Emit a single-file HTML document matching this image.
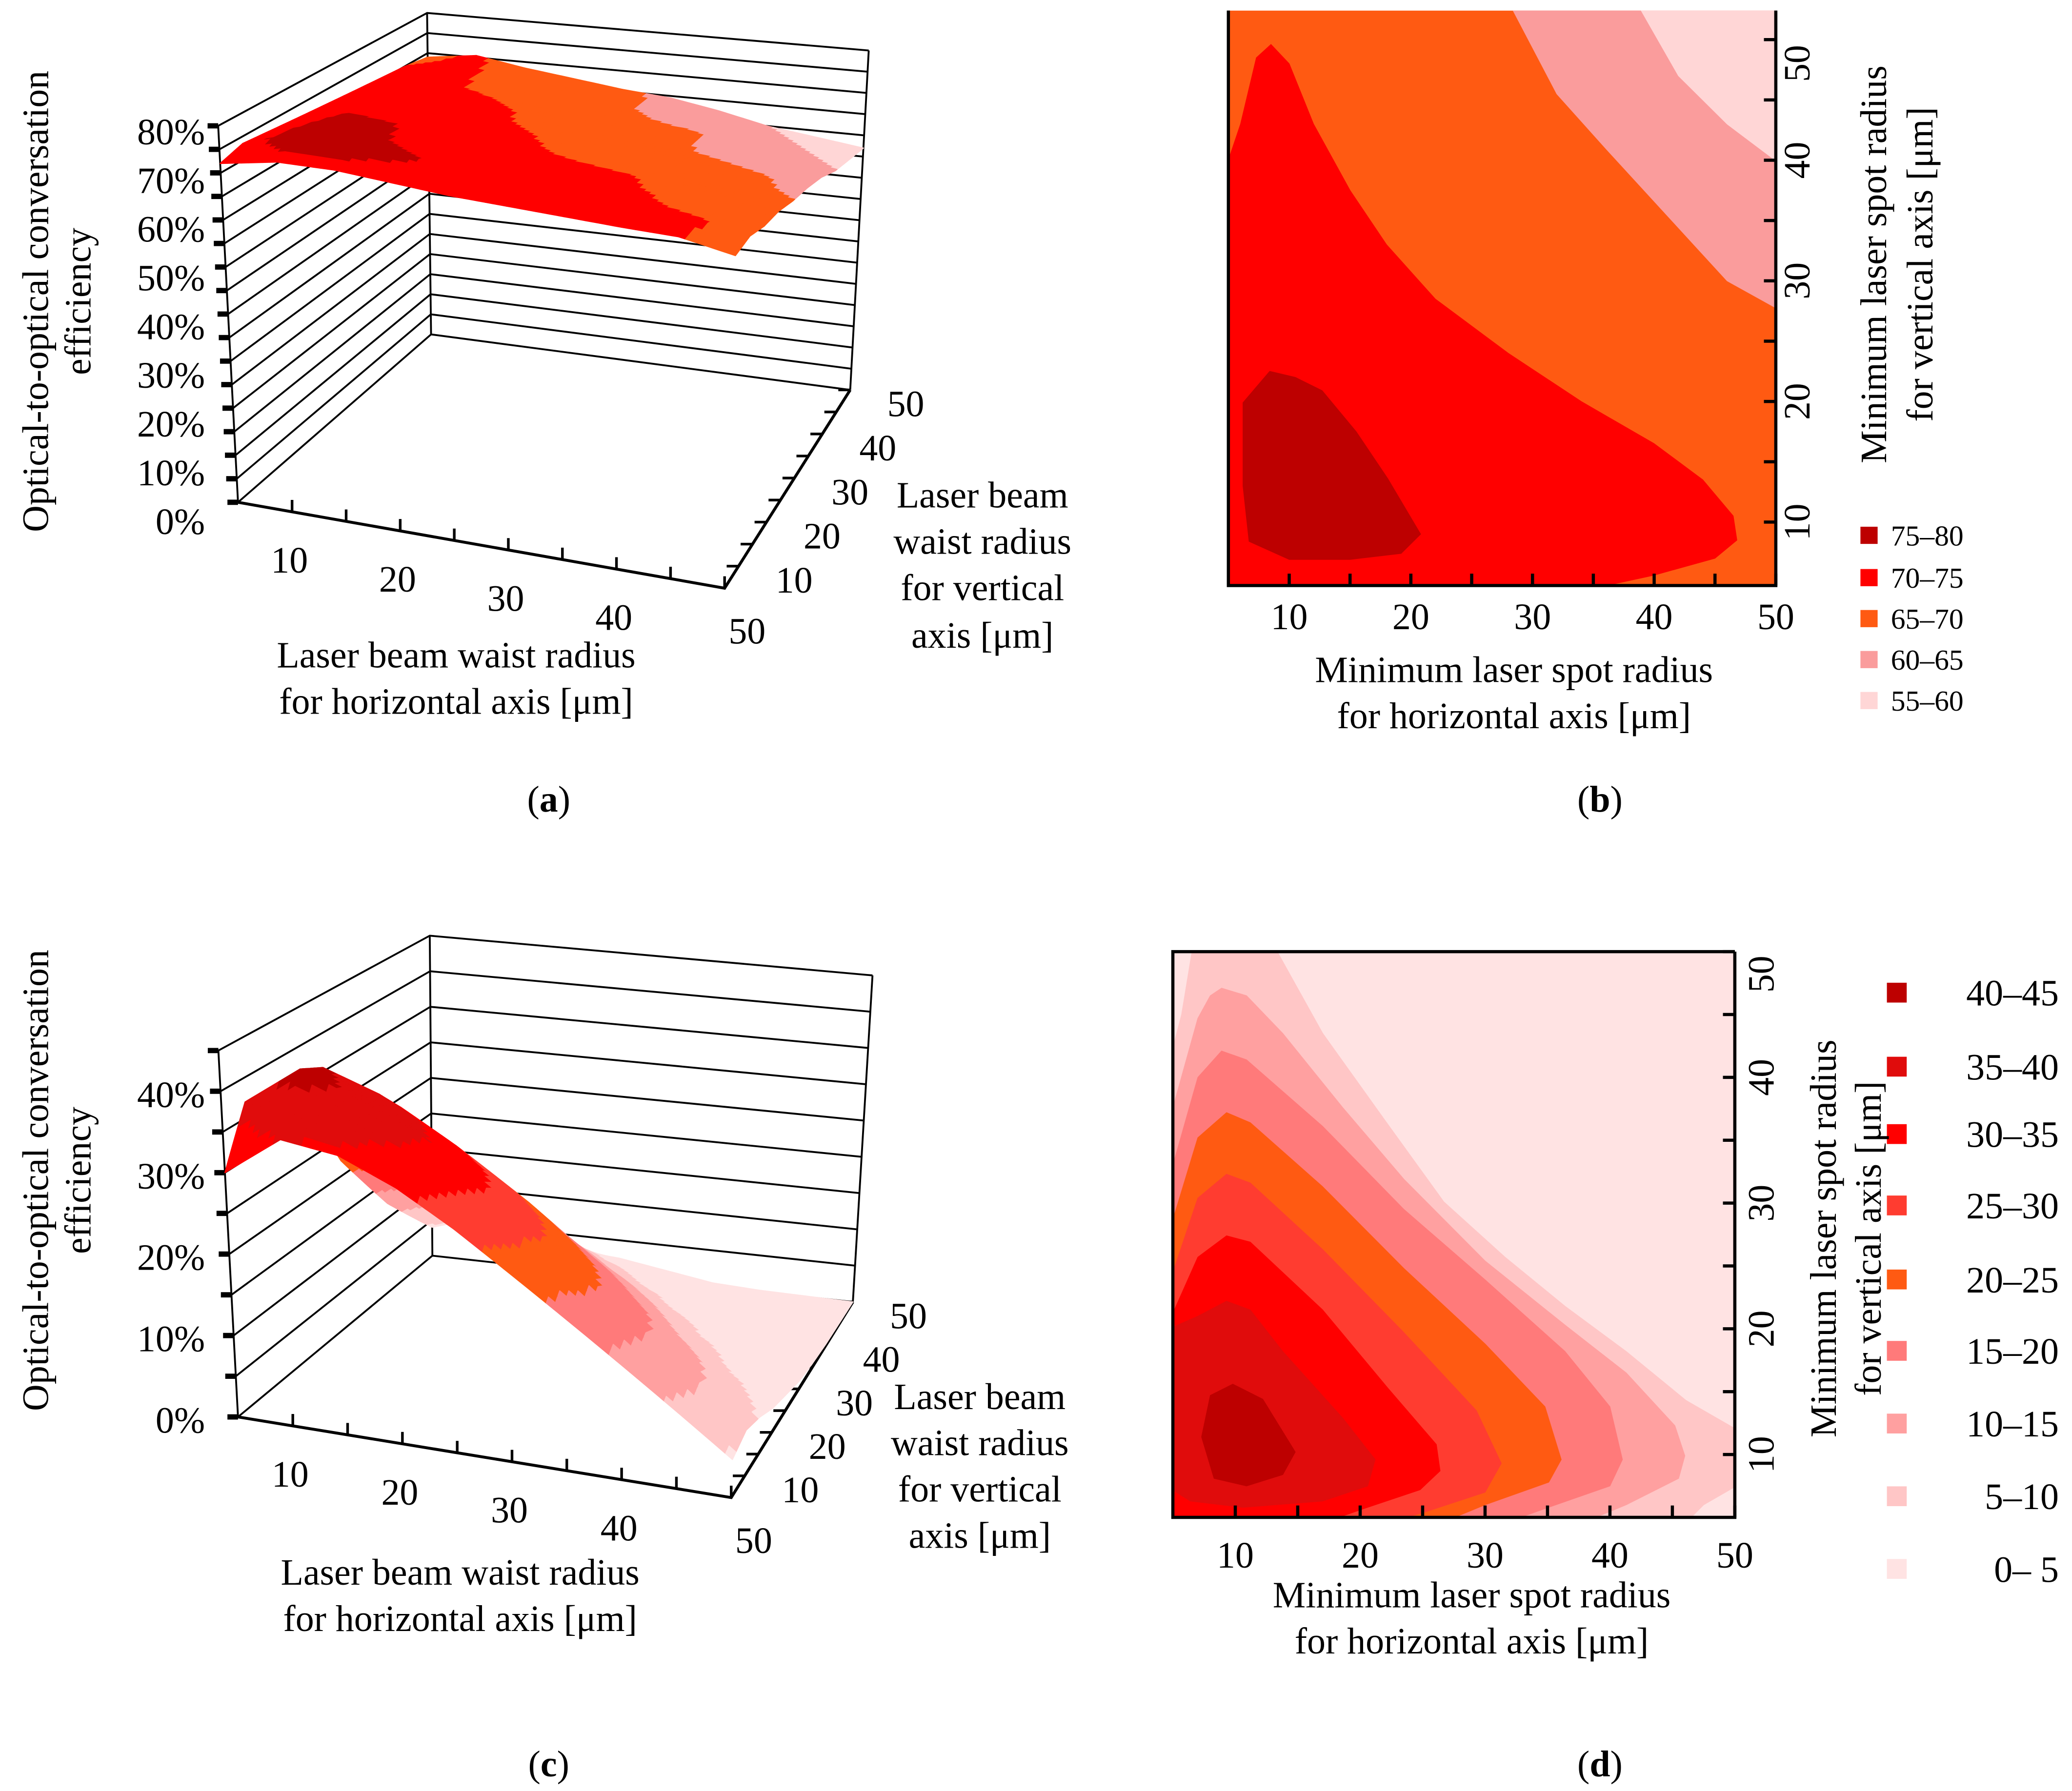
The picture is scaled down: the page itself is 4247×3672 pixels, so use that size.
<!DOCTYPE html>
<html><head><meta charset="utf-8">
<style>
html,body{margin:0;padding:0;background:#fff;}
svg{display:block;font-family:"Liberation Serif","DejaVu Serif",serif !important;}
svg text, svg tspan{font-family:"Liberation Serif","DejaVu Serif",serif !important;fill:#000;}
</style></head>
<body>
<svg id="fig" xmlns="http://www.w3.org/2000/svg" width="4247" height="3672" viewBox="0 0 1567 1355" preserveAspectRatio="none" font-family="Liberation Serif, serif">
<rect x="0" y="0" width="1567" height="1355" fill="#fff"/>
<g id="pa"></g>
<g id="pb"></g>
<g id="pc"></g>
<g id="pd"></g>

<g font-size="28" font-family="Liberation Serif, serif">
<text x="30" y="228" transform="rotate(-90 30 228)" text-anchor="middle" dominant-baseline="middle">Optical-to-optical conversation</text>
<text x="62" y="228" transform="rotate(-90 62 228)" text-anchor="middle" dominant-baseline="middle">efficiency</text>
<text x="345" y="505" text-anchor="middle">Laser beam waist radius</text>
<text x="345" y="540" text-anchor="middle">for horizontal axis [μm]</text>
<text x="743" y="384" text-anchor="middle">Laser beam</text>
<text x="743" y="419" text-anchor="middle">waist radius</text>
<text x="743" y="454" text-anchor="middle">for vertical</text>
<text x="743" y="490" text-anchor="middle">axis [μm]</text>
<text x="415" y="614" text-anchor="middle">(<tspan font-weight="bold">a</tspan>)</text>
</g>
<g font-size="28" font-family="Liberation Serif, serif">
<text x="1145" y="516" text-anchor="middle">Minimum laser spot radius</text>
<text x="1145" y="551" text-anchor="middle">for horizontal axis [μm]</text>
<text x="1420" y="200" transform="rotate(-90 1420 200)" text-anchor="middle" dominant-baseline="middle">Minimum laser spot radius</text>
<text x="1455" y="200" transform="rotate(-90 1455 200)" text-anchor="middle" dominant-baseline="middle">for vertical axis [μm]</text>
<text x="1210" y="614" text-anchor="middle">(<tspan font-weight="bold">b</tspan>)</text>
</g>
<g font-size="28" font-family="Liberation Serif, serif">
<text x="30" y="893" transform="rotate(-90 30 893)" text-anchor="middle" dominant-baseline="middle">Optical-to-optical conversation</text>
<text x="62" y="893" transform="rotate(-90 62 893)" text-anchor="middle" dominant-baseline="middle">efficiency</text>
<text x="348" y="1199" text-anchor="middle">Laser beam waist radius</text>
<text x="348" y="1234" text-anchor="middle">for horizontal axis [μm]</text>
<text x="741" y="1066" text-anchor="middle">Laser beam</text>
<text x="741" y="1101" text-anchor="middle">waist radius</text>
<text x="741" y="1136" text-anchor="middle">for vertical</text>
<text x="741" y="1171" text-anchor="middle">axis [μm]</text>
<text x="415" y="1344" text-anchor="middle">(<tspan font-weight="bold">c</tspan>)</text>
</g>
<g font-size="28" font-family="Liberation Serif, serif">
<text x="1113" y="1216" text-anchor="middle">Minimum laser spot radius</text>
<text x="1113" y="1251" text-anchor="middle">for horizontal axis [μm]</text>
<text x="1382" y="937" transform="rotate(-90 1382 937)" text-anchor="middle" dominant-baseline="middle">Minimum laser spot radius</text>
<text x="1416" y="937" transform="rotate(-90 1416 937)" text-anchor="middle" dominant-baseline="middle">for vertical axis [μm]</text>
<text x="1210" y="1344" text-anchor="middle">(<tspan font-weight="bold">d</tspan>)</text>
</g>
</svg>
<script>
const NS='http://www.w3.org/2000/svg';
// ---------- DATA ----------
const gridH=[5,10,15,20,25,30,35,40,45,50];
const gridV=[5,10,15,20,25,30,35,40,45,50];
// panel a efficiency (%) rows = gridV, cols = gridH
const aZ=[
[72,74,74,73,72,71.5,71,70.5,70.2,68],
[73.5,77,76.5,75.5,73,72,71.5,71,70.5,68.5],
[73,76.5,75.5,73.5,72,71,70.5,70,68.5,67],
[72.5,75.5,75,72.5,71.5,71,70.3,69.5,68,66.5],
[72,74,73,72,70.5,69,68,67,66,65],
[71.5,73.5,72.5,70.5,69.5,68.5,67.5,66.5,65.5,64],
[71,73,72,70,68.5,67,65.5,64.5,63.5,62.5],
[70.5,71,69.5,68,67,66,65.5,64,61.5,60],
[70,71,69,67.5,66,64.5,63,61.5,60,58.5],
[69,70.5,68.5,67,65.5,64.5,62.5,60,58.5,57]];
// panel c efficiency (%)
const cZ=[
[30,35,34,31,27,22.5,18,13.5,9,4.5],
[37,42,39,36,31.5,26.5,21.5,16,11,5.5],
[37,40.5,38,34,29.5,24.5,19.5,14.5,9.5,4.5],
[35,36.5,34.5,30.5,26,21,16,11,6.5,3],
[29,32,30,26.5,22,17,12.5,8,4,2],
[22,27,25.5,22,17.5,13,9,5,2.5,1],
[17,22,20.5,17.5,13,9,5.5,3,1.5,0.5],
[12,17,15.5,12.5,9,5.5,3,1.5,0.5,0.2],
[8,12,11,8,5,3,1.5,0.5,0.2,0.1],
[4,6,4.5,3,2.5,1.5,0.5,0.2,0.1,0]];
const aLevels=[55,60,65,70,75,80];
const aColors=['#ffd6d6','#fa9c9c','#ff5a12','#ff0000','#bd0000'];
const cLevels=[0,5,10,15,20,25,30,35,40,45];
const cColors=['#ffe3e3','#ffc6c6','#ffa0a0','#ff7a7a','#ff5a12','#ff3c30','#ff0000','#e00c0c','#bd0000'];
const aZTicks=[0,10,20,30,40,50,60,70,80];
const cZTicks=[0,10,20,30,40];
const hTicks=[10,20,30,40];
const vTicks=[10,20,30,40,50];
const xTicksBD=[10,20,30,40,50];
const yTicksBD=[10,20,30,40,50];
// panel b contour regions (data units: [horizontal, vertical])
const bLegend=['75–80','70–75','65–70','60–65','55–60'];
const bLegendColors=['#bd0000','#ff0000','#ff5a12','#fa9c9c','#ffd6d6'];
const b6065=[[28.1,53],[32,45.5],[36,41],[41,35.5],[46,30],[51,27.2],[51,53]];
const b5560=[[38.6,53],[42,47],[46,43],[51,39.2],[51,53]];
const b7075=[[4,4],[4,37],[6,43],[7.3,48.5],[8.5,49.6],[10,48],[12,43],[15,37.5],[18,33],[22,28.5],[28,24],[34,20],[40,16.5],[44,13.5],[46.5,10.5],[46.8,8.5],[45,7],[40,5.6],[35,4.5]];
const b7580=[[8.4,22.5],[10.5,22],[12.7,20.9],[15.5,17.5],[18.1,13.6],[20.8,9],[19.2,7.4],[15,6.9],[10,6.9],[6.7,8.4],[6.2,13],[6.2,19.9]];
// panel d contour regions
const dLegend=['40–45','35–40','30–35','25–30','20–25','15–20','10–15','5–10','0– 5'];
const d05=[[4,4],[4,38.5],[5.7,45],[6.7,51],[12.8,51],[17,43.5],[21.9,36.7],[26.7,30.1],[31.6,25.7],[36.4,21.8],[41.3,18.2],[46.1,14.3],[51,11.5],[51,8],[47.5,6],[45.5,4]];
const d10=[[4,4],[4,34],[7,44.7],[8,46.5],[8.9,47.1],[10.9,46.5],[13.8,43.5],[18.6,37.6],[23.5,31.9],[30,25.4],[36.4,20.3],[41.3,16.5],[45.2,12.3],[46,9.9],[45.5,8.1],[41.3,6],[36.4,4]];
const d15=[[4,4],[4,29.5],[7,40],[8.9,42.1],[10.9,41.4],[17,36.1],[23.5,29.5],[30,23.9],[36.4,18.2],[40,13.8],[41,9.6],[40,7.5],[34.8,5.7],[30,4]];
const d20=[[4,4],[4,25.4],[7,35.2],[9.3,37.2],[11.2,36.4],[17,31.3],[23.5,24.8],[30,18.8],[34.8,13.8],[36.1,9.6],[35.1,7.8],[30,6],[25.1,4]];
const d25=[[4,4],[4,21.5],[7,30.4],[9.3,32.3],[11.2,31.6],[17,26.3],[23.5,19.7],[29.3,13.5],[31.3,9.3],[30,7],[25.1,5.4],[20.3,4]];
const d30=[[4,4],[4,19],[7,25.7],[9.3,27.4],[11.2,26.9],[17,21.5],[22.2,15.3],[26.1,10.8],[26.4,8.7],[24.8,7.2],[20.3,5.7],[15.4,4]];
const d35=[[4,7.8],[4,19.7],[7,21],[9.3,22.2],[11.2,21.5],[13.8,18.2],[18.6,12.9],[21.2,9.6],[20.6,7.5],[17,6.3],[10.6,5.8],[6.4,6.3]];
const d40=[[9.8,15.6],[12.2,14.4],[14.8,10.2],[13.8,8.4],[10.9,7.5],[8.3,8.1],[7.3,11.4],[8,14.7]];

// ---------- helpers ----------
function mk(tag,attrs,parent){const el=document.createElementNS(NS,tag);for(const k in attrs)el.setAttribute(k,attrs[k]);parent.appendChild(el);return el;}
function makeProj(c){
  return function(h,v,z){
    const s=(h-5)/45,t=(v-5)/45;
    const bl=(a,b,cc,d)=>a*(1-s)*(1-t)+b*s*(1-t)+cc*s*t+d*(1-s)*t;
    const fx=bl(c.FL[0],c.FR[0],c.BR[0],c.BL[0]),fy=bl(c.FL[1],c.FR[1],c.BR[1],c.BL[1]);
    const ux=bl(c.uFL[0],c.uFR[0],c.uBR[0],c.uBL[0]),uy=bl(c.uFL[1],c.uFR[1],c.uBR[1],c.uBL[1]);
    return [fx+ux*z,fy+uy*z];
  };
}
function bandColor(val,levels,colors){
  for(let i=colors.length-1;i>=0;i--){if(val>=levels[i])return colors[i];}
  return colors[0];
}
function valAt(Z,fi,fj){
  const i=Math.min(Math.floor(fi),Z.length-2),j=Math.min(Math.floor(fj),Z[0].length-2);
  const a=fi-i,b=fj-j;
  return Z[i][j]*(1-a)*(1-b)+Z[i][j+1]*(1-a)*b+Z[i+1][j]*a*(1-b)+Z[i+1][j+1]*a*b;
}
function draw3D(g,P,Z,levels,colors,zTop,zTicks,labelEndX,labelDy,name){
  const box=mk('g',{stroke:'#000','stroke-width':1.4,fill:'none'},g);
  
  
  for(let z=0;z<=zTop+1e-9;z+=0.05){
    const a=P(5,5,z),b=P(5,50,z),c=P(50,50,z);
    const l=mk('polyline',{points:a.join(',')+' '+b.join(',')+' '+c.join(',')},box);
    
    
  }
  [[5,5],[5,50],[50,50]].forEach(p=>{
    const a=P(p[0],p[1],0),b=P(p[0],p[1],zTop);
    const l=mk('line',{x1:a[0],y1:a[1],x2:b[0],y2:b[1]},box);
    
    
  });
  const fa=P(5,5,0),fb=P(50,5,0),fc=P(50,50,0);
  const fl=mk('polyline',{points:fa.join(',')+' '+fb.join(',')+' '+fc.join(','),'stroke-width':2.2},box);
  
  
  for(let z=0;z<=zTop+1e-9;z+=0.05){
    const p=P(5,5,z);
    const t=mk('line',{x1:p[0]-8,y1:p[1],x2:p[0],y2:p[1],'stroke-width':4},box);
    
    
  }
  for(let h=10;h<=50;h+=5){
    const p=P(h,5,0);
    const t=mk('line',{x1:p[0],y1:p[1]-9,x2:p[0],y2:p[1],'stroke-width':2},box);
    
    
  }
  for(let v=10;v<=50;v+=5){
    const p=P(50,v,0);
    const t=mk('line',{x1:p[0]-9,y1:p[1],x2:p[0],y2:p[1],'stroke-width':2},box);
    
    
  }
  const surf=mk('g',{},g);
  
  
  const S=8,nV=gridV.length,nH=gridH.length;
  const hAt=fj=>gridH[0]+(gridH[1]-gridH[0])*fj, vAt=fi=>gridV[0]+(gridV[1]-gridV[0])*fi;
  for(let r=(nV-1)*S-1;r>=0;r--){
    for(let q=0;q<(nH-1)*S;q++){
      const i0=r/S,i1=(r+1)/S,j0=q/S,j1=(q+1)/S;
      const pts=[[i0,j0],[i0,j1],[i1,j1],[i1,j0]].map(c=>P(hAt(c[1]),vAt(c[0]),valAt(Z,c[0],c[1])/100));
      const cv=valAt(Z,(i0+i1)/2,(j0+j1)/2);
      const col=bandColor(cv,levels,colors);
      const pg=mk('polygon',{points:pts.map(p=>p[0].toFixed(2)+','+p[1].toFixed(2)).join(' '),fill:col,stroke:col,'stroke-width':0.8,'stroke-linejoin':'round'},surf);
      
      
    }
  }
  const lab=mk('g',{'font-size':28,'font-family':'Liberation Serif, serif'},g);
  
  
  zTicks.forEach(zt=>{
    const p=P(5,5,zt/100);
    const t=mk('text',{x:labelEndX,y:p[1]+labelDy(zt/100),'text-anchor':'end'},lab);
    t.textContent=zt+'%';
    
    
  });
  hTicks.forEach(h=>{
    const p=P(h,5,0);
    const t=mk('text',{x:p[0]-2,y:p[1]+46,'text-anchor':'middle'},lab);
    t.textContent=h;
    
    
  });
  const p50=P(50,5,0);
  const t50=mk('text',{x:p50[0]+17,y:p50[1]+42,'text-anchor':'middle'},lab);
  t50.textContent='50';
  
  
  vTicks.forEach(v=>{
    const p=P(50,v,0);
    const t=mk('text',{x:p[0]+42,y:p[1]+20,'text-anchor':'middle'},lab);
    t.textContent=v;
    
    
  });
}

// ---------- panel a ----------
const Pa=makeProj({FL:[180,380],FR:[548,445],BR:[643,295],BL:[326,253],
  uFL:[-18.75,-356],uFR:[12,-370],uBR:[17.5,-321],uBL:[-3.75,-304]});
draw3D(document.getElementById('pa'),Pa,aZ,aLevels,aColors,0.8,aZTicks,155,z=>14+10*(1-z/0.8),'panel-a');

// ---------- panel c ----------
const Pc=makeProj({FL:[180,1072],FR:[553,1133],BR:[645,985],BL:[327,950],
  uFL:[-33,-616],uFR:[20,-640],uBR:[33,-549],uBL:[-4.4,-538]});
draw3D(document.getElementById('pc'),Pc,cZ,cLevels,cColors,0.45,cZTicks,155,z=>12,'panel-c');

// ---------- contour helper ----------
function drawContour(g,name,box,xs,ys,regions,bgColor,topLine,yLabX,xLabY,yLabMin){
  const cid=name+'-clip';
  const defs=mk('defs',{},g);
  const cp=mk('clipPath',{id:cid},defs);
  mk('rect',{x:box.x0,y:box.y0,width:box.x1-box.x0,height:box.y1-box.y0},cp);
  const area=mk('g',{'clip-path':'url(#'+cid+')'},g);
  
  
  const bg=mk('rect',{x:box.x0,y:box.y0,width:box.x1-box.x0,height:box.y1-box.y0,fill:bgColor},area);
  
  
  regions.forEach(rg=>{
    const pg=mk('polygon',{points:rg.pts.map(p=>xs(p[0]).toFixed(2)+','+ys(p[1]).toFixed(2)).join(' '),fill:rg.color,stroke:rg.color,'stroke-width':0.5,'stroke-linejoin':'round'},area);
    
    
  });
  const ax=mk('g',{stroke:'#000',fill:'none','stroke-width':2.4},g);
  
  
  const fr=mk('polyline',{points:(topLine?box.x1+','+box.y0+' ':'')+box.x0+','+box.y0+' '+box.x0+','+box.y1+' '+box.x1+','+box.y1+' '+box.x1+','+box.y0},ax);
  
  
  for(let v=10;v<=50;v+=5){
    const tx=mk('line',{x1:xs(v),y1:box.y1,x2:xs(v),y2:box.y1-9},ax);
    
    
    const ty=mk('line',{x1:box.x1,y1:ys(v),x2:box.x1-9,y2:ys(v)},ax);
    
    
  }
  const lab=mk('g',{'font-size':28,'font-family':'Liberation Serif, serif'},g);
  
  
  xTicksBD.forEach(v=>{
    const t=mk('text',{x:xs(v),y:xLabY,'text-anchor':'middle'},lab);
    t.textContent=v;
    
    
  });
  yTicksBD.forEach(v=>{
    const y=Math.max(ys(v),yLabMin);
    const t=mk('text',{x:yLabX,y:y,'text-anchor':'middle','dominant-baseline':'middle',transform:'rotate(-90 '+yLabX+' '+y+')'},lab);
    t.textContent=v;
    
    
  });
}
function drawLegend(g,name,labels,colors,x,ys,sq,fs,textX,anchor){
  const lg=mk('g',{'font-size':fs,'font-family':'Liberation Serif, serif'},g);
  
  
  labels.forEach((lb,i)=>{
    const r=mk('rect',{x:x,y:ys[i]-sq/2,width:sq,height:sq,fill:colors[i]},lg);
    
    
    const t=mk('text',{x:textX,y:ys[i]+fs*0.35,'text-anchor':anchor},lg);
    t.textContent=lb;
    
    
  });
}

// ---------- panel b ----------
const bBox={x0:929,x1:1343,y0:8,y1:443};
const xb=v=>929+(v-5)*9.2,yb=v=>440.6-(v-5)*9.125;
drawContour(document.getElementById('pb'),'panel-b',bBox,xb,yb,[
  {key:'60-65',color:'#fa9c9c',pts:b6065},
  {key:'55-60',color:'#ffd6d6',pts:b5560},
  {key:'70-75',color:'#ff0000',pts:b7075},
  {key:'75-80',color:'#bd0000',pts:b7580}
],'#ff5a12',false,1362,476,48);
drawLegend(document.getElementById('pb'),'panel-b',bLegend,bLegendColors,1407,[405,437,468,499,530],13,22,1430,'start');

// ---------- panel d ----------
const dBox={x0:887,x1:1312,y0:720,y1:1148};
const xd=v=>887+(v-5)*(425/45),yd=v=>1148-(v-5)*(428/45);
drawContour(document.getElementById('pd'),'panel-d',dBox,xd,yd,[
  {key:'5-10',color:'#ffc6c6',pts:d05},
  {key:'10-15',color:'#ffa0a0',pts:d10},
  {key:'15-20',color:'#ff7a7a',pts:d15},
  {key:'20-25',color:'#ff5a12',pts:d20},
  {key:'25-30',color:'#ff3c30',pts:d25},
  {key:'30-35',color:'#ff0000',pts:d30},
  {key:'35-40',color:'#e00c0c',pts:d35},
  {key:'40-45',color:'#bd0000',pts:d40}
],'#ffe3e3',true,1335,1186,737);
drawLegend(document.getElementById('pd'),'panel-d',dLegend,['#bd0000','#e00c0c','#ff0000','#ff3c30','#ff5a12','#ff7a7a','#ffa0a0','#ffc6c6','#ffe3e3'],1427,[751,807,858,912,968,1022,1077,1132,1187],15,28,1557,'end');
</script>
</body></html>
